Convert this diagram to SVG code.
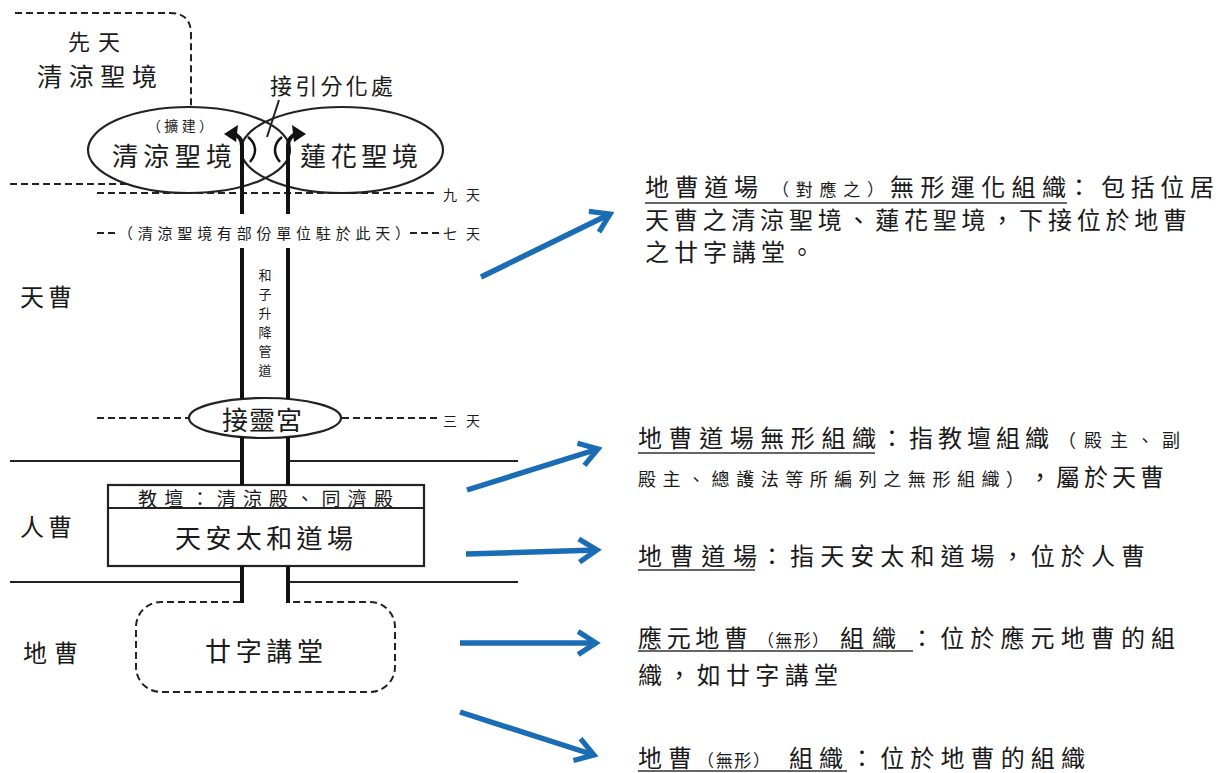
<svg xmlns="http://www.w3.org/2000/svg" width="1224" height="773" viewBox="0 0 1224 773">
<style>
text{font-family:"Noto Sans CJK TC","Noto Sans CJK SC",sans-serif;fill:#1a1a1a}
.dash{fill:none;stroke:#222;stroke-width:2;stroke-dasharray:7 4}
.solid{fill:none;stroke:#222;stroke-width:2}
.pipe{fill:none;stroke:#111;stroke-width:4}
.node{fill:none;stroke:#222;stroke-width:2.2}
.blue{fill:none;stroke:#1a6db4;stroke-width:5.5;marker-end:url(#ah)}
.ul{stroke:#333;stroke-width:1.6}
.big{font-size:24px}
.sm{font-size:17px}
.lbl{font-size:14px}
</style>
<defs>
<marker id="ah" viewBox="0 0 10 10" refX="7.5" refY="5" markerWidth="5" markerHeight="5" orient="auto" markerUnits="strokeWidth" overflow="visible">
<path d="M1,0.8 L7.5,5 L1,9.2" fill="none" stroke="#1a6db4" stroke-width="1.9" stroke-linejoin="miter"/>
</marker>
</defs>
<rect width="1224" height="773" fill="#ffffff"/>

<g id="zones">
<path class="dash" d="M15,13 H170 Q191,13 191,34 V108"/>
<path class="dash" d="M10,184 H127"/>
<text x="68" y="50" font-size="22" textLength="52">先天</text>
<text x="37" y="86" font-size="25" textLength="120">清涼聖境</text>
<path class="dash" d="M97,193 H437"/>
<text x="443" y="200" class="lbl" textLength="37">九天</text>
<path class="dash" d="M97,233 H117 M410,233 H440"/>
<text x="118" y="239" font-size="15" textLength="292">（清涼聖境有部份單位駐於此天）</text>
<text x="443" y="239" class="lbl" textLength="37">七天</text>
<path class="dash" d="M97,418 H188 M342,418 H437"/>
<text x="443" y="426" class="lbl" textLength="37">三天</text>
<text x="20" y="306" font-size="24" textLength="52">天曹</text>
<text x="20" y="536" font-size="24" textLength="52">人曹</text>
<text x="23" y="662" font-size="24" textLength="55">地曹</text>
<path class="solid" d="M10,461 H240 M290,461 H518 M10,582 H240 M290,582 H518"/>
</g>

<g id="node-qingliang">
<ellipse class="node" cx="189" cy="150" rx="101" ry="43"/>
<text x="147" y="131" font-size="14" textLength="66">（擴建）</text>
<text x="112" y="166" font-size="26" textLength="120">清涼聖境</text>
</g>

<g id="node-lianhua">
<ellipse class="node" cx="342" cy="150" rx="101" ry="43"/>
<text x="300" y="166" font-size="26" textLength="118">蓮花聖境</text>
</g>

<g id="label-jieyin">
<text x="270" y="94" font-size="22" textLength="123">接引分化處</text>
<path class="solid" d="M279,100 L267,137"/>
</g>

<g id="node-jielinggong">
<ellipse class="node" cx="265" cy="418" rx="76" ry="20"/>
<text x="222" y="430" font-size="26" textLength="80">接靈宮</text>
</g>

<g id="node-dochang">
<rect class="node" x="108" y="485" width="316" height="81" stroke-width="2.5"/>
<path class="solid" d="M108,508 H424"/>
<text x="138" y="506" font-size="19" textLength="255">教壇：清涼殿、同濟殿</text>
<text x="175" y="548" font-size="26" textLength="178">天安太和道場</text>
</g>

<g id="node-nianzi">
<path class="dash" d="M240,602 H161 A25,25 0 0 0 136,627 V667 A25,25 0 0 0 161,692 H370 A25,25 0 0 0 395,667 V627 A25,25 0 0 0 370,602 H290"/>
<text x="205" y="661" font-size="26" textLength="118">廿字講堂</text>
</g>

<g id="connectors">
<path class="pipe" d="M242,214 V146 C242,139 238,135 233,134"/>
<polygon points="224,134 238,125 236,142" fill="#111"/>
<path d="M248,137 C257,144 257,154 250,162" fill="none" stroke="#111" stroke-width="2.5"/>
<path class="pipe" d="M288,214 V146 C288,139 292,135 297,134"/>
<polygon points="306,134 292,125 294,142" fill="#111"/>
<path d="M282,137 C273,144 273,154 280,162" fill="none" stroke="#111" stroke-width="2.5"/>
<path class="pipe" d="M242,248 V399 M288,248 V399 M242,437 V485 M288,437 V485 M242,566 V603 M288,566 V603"/>
<g font-size="13" text-anchor="middle">
<text x="265" y="280">和</text>
<text x="265" y="299">子</text>
<text x="265" y="318">升</text>
<text x="265" y="337">降</text>
<text x="265" y="356">管</text>
<text x="265" y="375">道</text>
</g>
<path class="blue" d="M481,277 L610,214"/>
<path class="blue" d="M467,490 L598,449"/>
<path class="blue" d="M466,554 L597,550"/>
<path class="blue" d="M460,643 L596,643"/>
<path class="blue" d="M460,712 L594,755"/>
</g>

<g id="desc-1">
<text y="196" class="big"><tspan x="645" textLength="113">地曹道場</tspan><tspan x="772" class="sm" textLength="112">（對應之）</tspan><tspan x="890" textLength="176">無形運化組織</tspan><tspan x="1067">：</tspan><tspan x="1101" textLength="113">包括位居</tspan></text>
<line class="ul" x1="645" y1="203" x2="1067" y2="203"/>
<text x="645" y="229" class="big" textLength="542">天曹之清涼聖境、蓮花聖境，下接位於地曹</text>
<text x="645" y="261" class="big" textLength="169">之廿字講堂。</text>
</g>

<g id="desc-2">
<text y="447" class="big"><tspan x="638" textLength="238">地曹道場無形組織</tspan><tspan x="880" textLength="169">：指教壇組織</tspan><tspan x="1058" font-size="18" textLength="122">（殿主、副</tspan></text>
<line class="ul" x1="638" y1="453" x2="875" y2="453"/>
<text y="486" class="big"><tspan x="638" font-size="18" textLength="386">殿主、總護法等所編列之無形組織）</tspan><tspan x="1028" textLength="136">，屬於天曹</tspan></text>
</g>

<g id="desc-3">
<text y="565" class="big"><tspan x="638" textLength="119">地曹道場</tspan><tspan x="760" textLength="385">：指天安太和道場，位於人曹</tspan></text>
<line class="ul" x1="638" y1="570" x2="755" y2="570"/>
</g>

<g id="desc-4">
<text y="647" class="big"><tspan x="638" textLength="110">應元地曹</tspan><tspan x="757" class="sm" textLength="72">（無形）</tspan><tspan x="840" textLength="56">組織</tspan><tspan x="910" textLength="265">：位於應元地曹的組</tspan></text>
<line class="ul" x1="638" y1="651" x2="913" y2="651"/>
<text x="638" y="684" class="big" textLength="200">織，如廿字講堂</text>
</g>

<g id="desc-5">
<text y="767" class="big"><tspan x="638" textLength="54">地曹</tspan><tspan x="697" class="sm" textLength="73">（無形）</tspan><tspan x="789" textLength="54">組織</tspan><tspan x="850" textLength="235">：位於地曹的組織</tspan></text>
<line class="ul" x1="638" y1="771" x2="847" y2="771"/>
</g>
</svg>
